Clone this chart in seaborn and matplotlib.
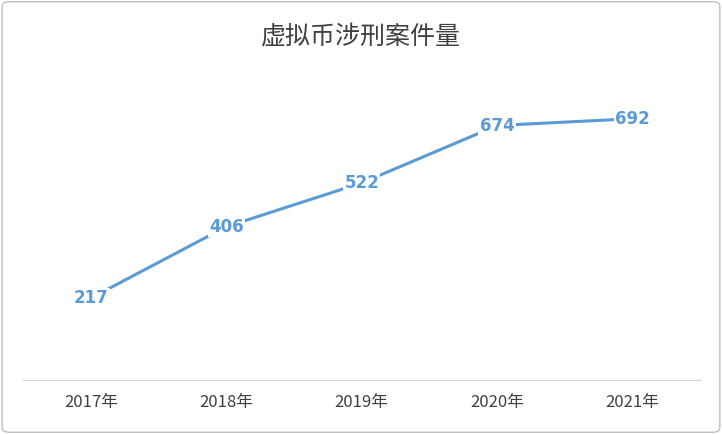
import matplotlib
matplotlib.use("Agg")
import matplotlib.pyplot as plt
import seaborn as sns
import pandas as pd
from matplotlib.patches import FancyBboxPatch

years = ["2017年", "2018年", "2019年", "2020年", "2021年"]
cases = [217, 406, 522, 674, 692]
title = "虚拟币涉刑案件量"

sns.set_style("white")
plt.rcParams['font.family'] = ['Noto Sans CJK SC', 'DejaVu Sans']

fig = plt.figure(figsize=(7.22, 4.34), dpi=100)
ax = fig.add_axes([0.032, 0.1244, 0.938, 0.696])
df = pd.DataFrame({"year": years, "cases": cases})
sns.lineplot(data=df, x="year", y="cases", ax=ax, color="#5B9BD5", linewidth=2.2, sort=False)
for i, v in enumerate(cases):
    ax.text(i, v, str(v), ha="center", va="center", color="#5B9BD5", fontsize=12,
            fontweight="bold", family="DejaVu Sans",
            bbox=dict(facecolor="white", edgecolor="none", pad=1))
ax.set_xlim(-0.5, 4.5)
ax.set_ylim(0, 800)
ax.set_yticks([])
ax.set_xlabel("")
ax.set_ylabel("")
for s in ["top", "left", "right"]:
    ax.spines[s].set_visible(False)
ax.spines["bottom"].set_color("#D0D0D0")
ax.tick_params(axis="x", length=0, labelsize=12, labelcolor="#404040", pad=10)
fig.text(0.5, 0.915, title, ha="center", va="center", fontsize=18, color="#404040")
fig.patches.append(FancyBboxPatch((0.003, 0.004), 0.994, 0.992, boxstyle="round,pad=0,rounding_size=0.01",
                                  transform=fig.transFigure, fill=False, edgecolor="#BFBFBF", linewidth=1))
fig.savefig("out.png", dpi=100)
